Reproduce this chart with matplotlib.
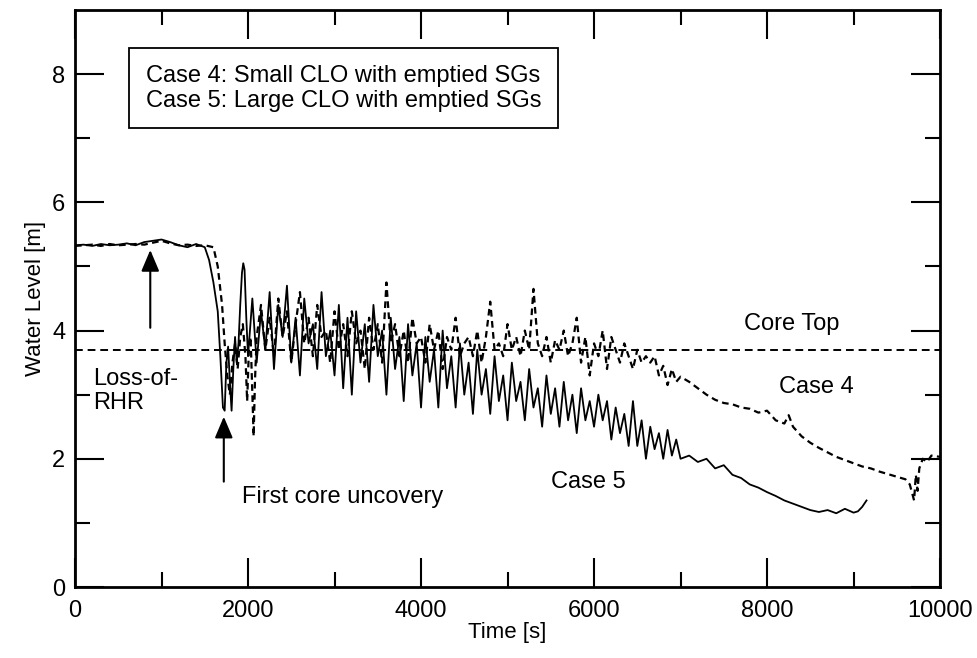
import matplotlib
matplotlib.use("Agg")
import matplotlib.pyplot as plt
import numpy as np

plt.rcParams['font.family'] = ['Liberation Sans', 'DejaVu Sans']

# Case 5 (solid) - before the noisy part
t5_a = [0, 100, 200, 300, 400, 500, 600, 700, 800, 900, 1000, 1100, 1200, 1300, 1400, 1500,
        1550, 1600, 1650, 1680, 1710, 1730, 1750, 1770, 1790, 1810, 1830, 1850, 1870, 1890,
        1910, 1930, 1945, 1960, 1980]
y5_a = [5.33, 5.34, 5.32, 5.35, 5.33, 5.34, 5.36, 5.33, 5.38, 5.40, 5.42, 5.38, 5.33, 5.30, 5.35, 5.30,
        5.10, 4.75, 4.30, 3.60, 2.80, 2.75, 3.50, 3.75, 3.20, 2.75, 3.40, 3.90, 3.50, 3.80,
        4.40, 4.90, 5.05, 4.95, 4.20]
# Case 5 noisy part, sampled every 50 s from 2000 to 7000
t5_b = np.arange(2000, 7001, 50)
y5_b = [3.6, 4.5, 3.5, 4.3, 3.7, 4.6, 3.4, 4.4, 3.9, 4.7,
        3.5, 4.2, 3.3, 4.5, 3.8, 4.1, 3.4, 4.6, 3.6, 4.0,
        3.3, 4.4, 3.1, 4.2, 3.0, 4.3, 3.5, 4.1, 3.2, 4.4,
        3.6, 4.0, 3.0, 4.2, 3.4, 3.9, 2.9, 4.1, 3.3, 3.8,
        2.8, 3.9, 3.2, 3.7, 2.8, 4.0, 3.1, 3.6, 2.8, 3.8,
        3.0, 3.5, 2.7, 3.7, 3.0, 3.4, 2.7, 3.6, 2.9, 3.3,
        2.6, 3.5, 2.9, 3.2, 2.6, 3.4, 2.8, 3.1, 2.5, 3.3,
        2.7, 3.1, 2.5, 3.2, 2.6, 3.0, 2.4, 3.1, 2.6, 2.9,
        2.5, 3.0, 2.6, 2.9, 2.3, 2.8, 2.4, 2.7, 2.2, 2.9,
        2.2, 2.6, 2.0, 2.5, 2.15, 2.4, 2.0, 2.45, 2.05, 2.3,
        2.0]
t5_c = [7100, 7200, 7300, 7400, 7500, 7600, 7700, 7800, 7900, 8000, 8100, 8200, 8300,
        8400, 8500, 8600, 8700, 8800, 8900, 9000, 9050, 9100, 9150]
y5_c = [2.05, 1.95, 2.0, 1.85, 1.9, 1.75, 1.7, 1.6, 1.55, 1.48, 1.42, 1.35, 1.3,
        1.25, 1.2, 1.17, 1.2, 1.15, 1.22, 1.16, 1.18, 1.25, 1.35]

# Case 4 (dashed)
t4_a = [0, 100, 200, 300, 400, 500, 600, 700, 800, 900, 1000, 1100, 1200, 1300, 1400, 1500,
        1600, 1650, 1700, 1730, 1760, 1790, 1820, 1850, 1880, 1910, 1940, 1970, 1990, 2010,
        2030, 2050, 2065, 2080, 2100]
y4_a = [5.32, 5.33, 5.34, 5.32, 5.35, 5.33, 5.34, 5.35, 5.34, 5.37, 5.40, 5.36, 5.33, 5.34, 5.32, 5.33,
        5.30, 5.00, 4.40, 3.80, 3.30, 3.00, 3.50, 3.80, 3.40, 3.90, 4.10, 3.60, 2.90, 3.70,
        3.90, 3.00, 2.35, 3.20, 3.90]
t4_b = np.arange(2150, 6951, 50)
y4_b = [4.4, 3.7, 4.2, 3.6, 4.5, 3.9, 4.3, 3.5, 4.1, 4.6,
        3.8, 4.2, 3.6, 4.4, 3.9, 4.0, 3.5, 4.3, 3.7, 4.1,
        3.6, 4.3, 3.8, 4.0, 3.4, 4.2, 3.7, 4.1, 3.5, 4.75,
        3.8, 4.1, 3.6, 4.0, 3.5, 4.2, 3.8, 3.9, 3.5, 4.1,
        3.7, 4.0, 3.4, 3.9, 3.7, 4.2, 3.6, 3.8, 3.9, 3.6,
        4.0, 3.5, 3.9, 4.45, 3.7, 3.8, 3.6, 4.1, 3.7, 3.9,
        3.6, 4.0, 3.7, 4.65, 3.8, 3.6, 3.9, 3.5, 3.85, 3.7,
        4.0, 3.6, 3.8, 4.2, 3.5, 3.9, 3.3, 3.8, 3.6, 4.0,
        3.4, 3.9, 3.7, 3.5, 3.8, 3.6, 3.4, 3.7, 3.5, 3.6,
        3.5, 3.6, 3.3, 3.45, 3.15, 3.4, 3.2]
t4_c = [7000, 7100, 7200, 7300, 7400, 7500, 7600, 7700, 7800, 7900, 8000, 8100, 8200, 8250,
        8300, 8400, 8500, 8600, 8700, 8800, 8900, 9000, 9100, 9200, 9300, 9400, 9500, 9600,
        9650, 9700, 9720, 9740, 9760, 9800, 9850, 9900, 10000]
y4_c = [3.28, 3.2, 3.1, 3.0, 2.92, 2.87, 2.85, 2.8, 2.78, 2.72, 2.75, 2.6, 2.55, 2.68,
        2.5, 2.35, 2.25, 2.17, 2.1, 2.03, 1.98, 1.93, 1.88, 1.85, 1.8, 1.76, 1.72, 1.68,
        1.6, 1.35, 1.75, 1.5, 1.85, 2.0, 1.95, 2.05, 2.03]

core_top = 3.7

t5 = np.concatenate([t5_a, t5_b, t5_c])
y5 = np.concatenate([y5_a, y5_b, y5_c])
t4 = np.concatenate([t4_a, t4_b, t4_c])
y4 = np.concatenate([y4_a, y4_b, y4_c])

fig = plt.figure(figsize=(9.78, 6.58), dpi=100)
ax = fig.add_axes([0.0767, 0.1079, 0.8845, 0.8769])

ax.plot(t5, y5, color='black', lw=1.3)
ax.plot(t4, y4, color='black', lw=1.6, ls=(0, (3, 2)))
ax.axhline(core_top, color='black', lw=1.4, ls=(0, (4, 2.5)))

ax.set_xlim(0, 10000)
ax.set_ylim(0, 9)
ax.set_xticks([0, 2000, 4000, 6000, 8000, 10000])
ax.set_xticks([1000, 3000, 5000, 7000, 9000], minor=True)
ax.set_yticks([0, 2, 4, 6, 8])
ax.set_yticks([1, 3, 5, 7], minor=True)
ax.tick_params(which='both', direction='in', top=True, right=True, width=1.5, labelsize=17)
ax.tick_params(which='major', length=21)
ax.tick_params(which='minor', length=11)
ax.tick_params(axis='x', pad=9)
ax.tick_params(axis='y', pad=7)
for s in ax.spines.values():
    s.set_linewidth(2)

ax.set_xlabel('Time [s]', fontsize=16, labelpad=0)
ax.set_ylabel('Water Level [m]', fontsize=16, labelpad=4)

# legend box
ax.text(820, 7.78, 'Case 4: Small CLO with emptied SGs\nCase 5: Large CLO with emptied SGs',
        fontsize=17, va='center', ha='left', linespacing=1.2,
        bbox=dict(boxstyle='square,pad=0.7', fc='white', ec='black', lw=1.3))

ax.annotate('', xy=(870, 5.3), xytext=(870, 4.0),
            arrowprops=dict(arrowstyle='-|>,head_width=0.55,head_length=1.3', color='black', lw=1.5))
ax.annotate('', xy=(1720, 2.7), xytext=(1720, 1.6),
            arrowprops=dict(arrowstyle='-|>,head_width=0.55,head_length=1.3', color='black', lw=1.5))

ax.text(210, 3.06, 'Loss-of-\nRHR', fontsize=17, ha='left', va='center', linespacing=1.1)
ax.text(1930, 1.4, 'First core uncovery', fontsize=17, ha='left', va='center')
ax.text(8290, 4.1, 'Core Top', fontsize=17, ha='center', va='center')
ax.text(8570, 3.12, 'Case 4', fontsize=17, ha='center', va='center')
ax.text(5940, 1.64, 'Case 5', fontsize=17, ha='center', va='center')

fig.savefig('out.png', dpi=100)
